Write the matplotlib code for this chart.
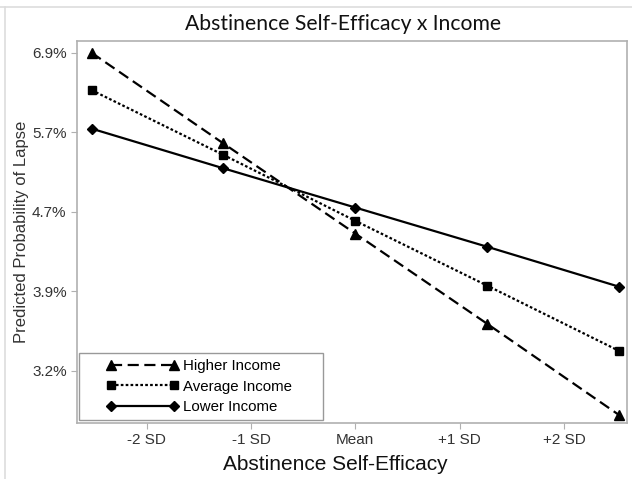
"""
# Predicted probability of lapse: Abstinence Self-Efficacy x Income
"""

import numpy as np
import matplotlib
matplotlib.use('Agg')
import matplotlib.pyplot as plt
from matplotlib.ticker import FixedLocator, NullLocator
from matplotlib.lines import Line2D
from matplotlib.patches import Rectangle

### Data
x_sd = [-2.53, -1.265, 0.0, 1.265, 2.53]   # self-efficacy, in SD units
p_higher = [6.91, 5.58, 4.50, 3.62, 2.90]  # predicted prob. of lapse (%)
p_average = [6.33, 5.43, 4.64, 3.97, 3.39]
p_lower = [5.78, 5.26, 4.79, 4.36, 3.96]

series_names = ['Higher Income', 'Average Income', 'Lower Income']
xtick_vals = [-2, -1, 0, 1, 2]
xtick_labels = ['-2 SD', '-1 SD', 'Mean', '+1 SD', '+2 SD']
ytick_logit = [-2.6, -2.8, -3.0, -3.2, -3.4]   # equally spaced on logit scale


def expit(z):
    return 1.0/(1.0+np.exp(-np.asarray(z)))


def main():
    W, H = 632, 479
    fig = plt.figure()
    fig.set_size_inches(W/100, H/100)

    ### light border lines of the original picture
    fig.add_artist(Line2D([0, 1], [1-7/H, 1-7/H], color='#dddddd', lw=1.2))
    fig.add_artist(Line2D([5/W, 5/W], [0, 1-7/H], color='#dddddd', lw=1.2))

    l, r, t, b = 77, 627, 41, 423   # axes box in pixels
    ax = fig.add_axes([l/W, 1-b/H, (r-l)/W, (b-t)/H])

    styles = [('^', (0, (5, 2.5))), ('s', (0, (1.2, 1.0))), ('D', '-')]
    msize = [6.5, 5.2, 5.5]
    for vals, name, (mk, ls), ms in zip([p_higher, p_average, p_lower], series_names, styles, msize):
        ax.plot(x_sd, np.array(vals)/100., color='black', ls=ls, lw=1.6,
                marker=mk, ms=ms, label=name)

    ax.set_yscale('logit')
    ax.set_ylim(expit(-3.531), expit(-2.571))
    ax.set_xlim(-2.67, 2.53+(627-619)/106)

    yt = expit(ytick_logit)
    ax.yaxis.set_major_locator(FixedLocator(yt))
    ax.yaxis.set_minor_locator(NullLocator())
    ax.set_yticklabels(['{:.1f}%'.format(v*100) for v in yt])
    ax.set_xticks(xtick_vals)
    ax.set_xticklabels(xtick_labels)
    ax.xaxis.set_minor_locator(NullLocator())

    for sp in ax.spines.values():
        sp.set_color('#b0b0b0')
        sp.set_linewidth(1.2)
    ax.tick_params(axis='both', which='major', direction='out', length=4,
                   color='#b0b0b0', labelsize=11, labelcolor='#333333')
    for lab in ax.get_xticklabels()+ax.get_yticklabels():
        lab.set_family('Liberation Sans')

    ax.set_ylabel('Predicted Probability of Lapse', fontsize=12,
                  family='Liberation Sans', color='#333333', labelpad=2)

    fig.text(343/W, 1-24/H, 'Abstinence Self-Efficacy x Income', ha='center', va='center',
             fontsize=15.2, family='Lato', color='#111111')
    fig.text(335/W, 1-465/H, 'Abstinence Self-Efficacy', ha='center', va='center',
             fontsize=15, family='Liberation Sans', color='#111111')

    ### legend: frame drawn separately (wider than the entries, as in the original)
    box = Rectangle(((78.5-l)/(r-l), (b-420)/(b-t)), (323-78.5)/(r-l), (420-352.5)/(b-t),
                    transform=ax.transAxes, fc='white', ec='#999999', lw=1.0, zorder=4)
    ax.add_patch(box)
    leg = ax.legend(loc='lower left', bbox_to_anchor=((106-l)/(r-l), (b-414)/(b-t)),
                    borderaxespad=0, numpoints=2, handlelength=4.8, frameon=False,
                    prop={'family': 'Liberation Sans', 'size': 10.8},
                    labelspacing=0.42, handletextpad=0.35, borderpad=0.0)
    leg.set_zorder(5)

    fig.savefig('out.png', dpi=100)
    return


if __name__ == '__main__':
    main()
